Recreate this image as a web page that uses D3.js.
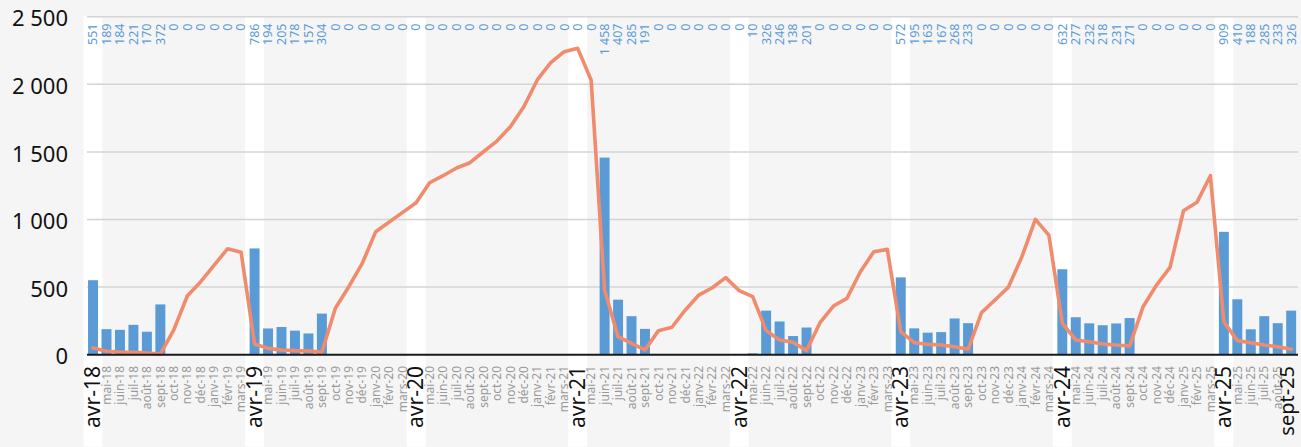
<!DOCTYPE html>
<html lang="fr">
<head>
<meta charset="utf-8">
<script src="https://cdn.jsdelivr.net/npm/d3@7"></script>
<style>
  html, body { margin: 0; padding: 0; background: #f5f5f5; }
  svg { display: block; font-family: "Noto Sans", "Open Sans", sans-serif; }
</style>
</head>
<body>
<svg id="chart" width="1301" height="447"></svg>
<script>
// Month categories, April 2018 to September 2025
const months = [
  "avr-18","mai-18","juin-18","juil-18","août-18","sept-18","oct-18","nov-18","déc-18","janv-19","févr-19","mars-19",
  "avr-19","mai-19","juin-19","juil-19","août-19","sept-19","oct-19","nov-19","déc-19","janv-20","févr-20","mars-20",
  "avr-20","mai-20","juin-20","juil-20","août-20","sept-20","oct-20","nov-20","déc-20","janv-21","févr-21","mars-21",
  "avr-21","mai-21","juin-21","juil-21","août-21","sept-21","oct-21","nov-21","déc-21","janv-22","févr-22","mars-22",
  "avr-22","mai-22","juin-22","juil-22","août-22","sept-22","oct-22","nov-22","déc-22","janv-23","févr-23","mars-23",
  "avr-23","mai-23","juin-23","juil-23","août-23","sept-23","oct-23","nov-23","déc-23","janv-24","févr-24","mars-24",
  "avr-24","mai-24","juin-24","juil-24","août-24","sept-24","oct-24","nov-24","déc-24","janv-25","févr-25","mars-25",
  "avr-25","mai-25","juin-25","juil-25","août-25","sept-25"
];

// Monthly bar values (labelled above the plot)
const barValues = [
  551,189,184,221,170,372,0,0,0,0,0,0,
  786,194,205,178,157,304,0,0,0,0,0,0,
  0,0,0,0,0,0,0,0,0,0,0,0,
  0,0,1458,407,285,191,0,0,0,0,0,0,
  0,10,326,246,138,201,0,0,0,0,0,0,
  572,195,163,167,268,233,0,0,0,0,0,0,
  632,277,232,218,231,271,0,0,0,0,0,0,
  909,410,188,285,233,326
];

// Running line series
const lineValues = [
  50,25,20,18,12,5,183,434,540,663,784,757,
  79,47,35,30,28,18,343,503,676,910,981,1053,
  1124,1272,1324,1381,1420,1501,1580,1686,1834,2032,2160,2241,
  2266,2032,478,133,84,35,178,203,331,441,495,570,
  474,429,178,109,92,30,237,360,417,614,762,779,
  170,89,77,72,59,40,311,405,500,725,1001,885,
  232,109,96,79,72,64,355,515,646,1065,1127,1324,
  244,104,89,72,59,40
];

const yTicks = [0, 500, 1000, 1500, 2000, 2500];

const svg = d3.select("#chart");
const W = 1301, H = 447;
const plot = { left: 87, right: 1298, top: 16.7, bottom: 354.7 };

const x = d3.scaleBand()
  .domain(months)
  .range([86.3, 1297.9])
  .paddingInner(0.26)
  .paddingOuter(0.13);

const y = d3.scaleLinear().domain([0, 2500]).range([plot.bottom, plot.top]);

const fr = d3.formatLocale({ decimal: ",", thousands: "\u00a0", grouping: [3], currency: ["", " €"] });
const fmt = fr.format(",d");

const cx = d => x(d) + x.bandwidth() / 2;
const isApril = m => m.startsWith("avr");

// Background
svg.append("rect").attr("width", W).attr("height", H).attr("fill", "#f5f5f5");

// White stripes behind each April
svg.append("g").selectAll("rect")
  .data(months.filter(isApril))
  .join("rect")
  .attr("x", d => cx(d) - x.step() * 0.7)
  .attr("y", plot.top - 0.5)
  .attr("width", x.step() * 1.4)
  .attr("height", H - plot.top)
  .attr("fill", "#ffffff");

// Horizontal gridlines
svg.append("g").selectAll("line")
  .data(yTicks.filter(t => t > 0))
  .join("line")
  .attr("x1", plot.left).attr("x2", plot.right)
  .attr("y1", d => y(d)).attr("y2", d => y(d))
  .attr("stroke", "#d4d4d4").attr("stroke-width", 1.5);

// Y tick labels
svg.append("g").selectAll("text")
  .data(yTicks)
  .join("text")
  .attr("x", 68)
  .attr("y", d => y(d) + 2)
  .attr("dy", "0.35em")
  .attr("text-anchor", "end")
  .attr("font-size", 22)
  .attr("fill", "#111")
  .text(d => fmt(d));

// Bars
svg.append("g").selectAll("rect")
  .data(months.map((m, i) => ({ m, v: barValues[i] })))
  .join("rect")
  .attr("x", d => x(d.m))
  .attr("y", d => y(d.v))
  .attr("width", x.bandwidth())
  .attr("height", d => y(0) - y(d.v))
  .attr("fill", "#5b9bd5");

// Line
const line = d3.line()
  .x(d => cx(d.m))
  .y(d => y(d.v));
svg.append("path")
  .datum(months.map((m, i) => ({ m, v: lineValues[i] })))
  .attr("d", line)
  .attr("fill", "none")
  .attr("stroke", "#f08b6d")
  .attr("stroke-width", 3.6)
  .attr("stroke-linejoin", "round")
  .attr("stroke-linecap", "round");

// Baseline
svg.append("line")
  .attr("x1", plot.left).attr("x2", plot.right)
  .attr("y1", y(0)).attr("y2", y(0))
  .attr("stroke", "#1a1a1a").attr("stroke-width", 2);

// Bar value labels along the top
svg.append("g").selectAll("text")
  .data(months.map((m, i) => ({ m, v: barValues[i] })))
  .join("text")
  .attr("transform", d => `translate(${cx(d.m)},23.5) rotate(-90)`)
  .attr("dy", "0.35em")
  .attr("text-anchor", "end")
  .attr("font-size", 12.5)
  .attr("fill", "#5b9bd5")
  .text(d => fmt(d.v));

// Month labels under the axis; the last one is nudged left to stay inside the frame
const last = months[months.length - 1];
const big = d => isApril(d) || d === last;
svg.append("g").selectAll("text")
  .data(months)
  .join("text")
  .attr("transform", d => `translate(${cx(d) - (d === last ? 4 : 0)},366) rotate(-90)`)
  .attr("dy", "0.35em")
  .attr("text-anchor", "end")
  .attr("font-size", d => big(d) ? (d === last ? 20 : 21) : 12)
  .attr("fill", d => big(d) ? "#111" : "#9a9a9a")
  .text(d => d);
</script>
</body>
</html>
